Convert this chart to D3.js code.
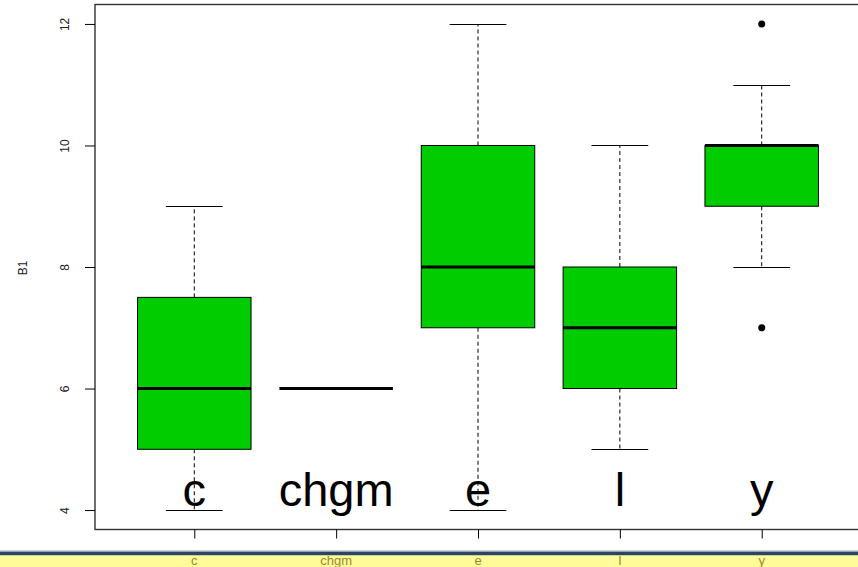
<!DOCTYPE html>
<html>
<head>
<meta charset="utf-8">
<script src="https://cdn.jsdelivr.net/npm/d3@7"></script>
<style>
  html, body { margin: 0; padding: 0; background: #fff; }
  svg { display: block; font-family: "Liberation Sans", Arial, sans-serif; }
</style>
</head>
<body>
<svg id="chart" width="858" height="567"></svg>
<script>
// Groups and their five-number summaries for B1
const categories = ["c", "chgm", "e", "l", "y"];
const whiskerLow  = [4, 6, 4, 5, 8];
const q1          = [5, 6, 7, 6, 9];
const medians     = [6, 6, 8, 7, 10];
const q3          = [7.5, 6, 10, 8, 10];
const whiskerHigh = [9, 6, 12, 10, 11];
const outliers    = [[], [], [], [], [12, 7]];
const yTicks = [4, 6, 8, 10, 12];

const svg = d3.select("#chart");

// Plot frame and scales (R-style 4% padding on both axes)
const frame = { left: 95, right: 861, top: 4.5, bottom: 529.5 };
const x = d3.scaleLinear().domain([0.3, 5.7]).range([frame.left, frame.right]);
const y = d3.scaleLinear().domain([3.68, 12.32]).range([frame.bottom, frame.top]);
const boxHalf = 0.4;
const capHalf = 0.2;

const data = categories.map((c, i) => ({
  name: c, pos: i + 1,
  lo: whiskerLow[i], q1: q1[i], med: medians[i], q3: q3[i], hi: whiskerHigh[i],
  out: outliers[i]
}));

const g = svg.append("g");

data.forEach(d => {
  const cx = x(d.pos);
  const flat = d.q1 === d.q3;
  // whiskers (dashed) and caps
  if (!flat) {
    g.append("line").attr("x1", cx).attr("x2", cx)
      .attr("y1", y(d.q3)).attr("y2", y(d.hi))
      .attr("stroke", "#000").attr("stroke-dasharray", "4,3");
    g.append("line").attr("x1", cx).attr("x2", cx)
      .attr("y1", y(d.q1)).attr("y2", y(d.lo))
      .attr("stroke", "#000").attr("stroke-dasharray", "4,3");
    [d.lo, d.hi].forEach(v => {
      g.append("line")
        .attr("x1", x(d.pos - capHalf)).attr("x2", x(d.pos + capHalf))
        .attr("y1", Math.round(y(v)) + 0.5).attr("y2", Math.round(y(v)) + 0.5)
        .attr("stroke", "#000");
    });
    // box
    g.append("rect")
      .attr("x", x(d.pos - boxHalf)).attr("y", y(d.q3))
      .attr("width", x(d.pos + boxHalf) - x(d.pos - boxHalf))
      .attr("height", y(d.q1) - y(d.q3))
      .attr("fill", "#00cc00").attr("stroke", "#000").attr("stroke-width", 1);
  }
  // median
  g.append("line")
    .attr("x1", x(d.pos - boxHalf)).attr("x2", x(d.pos + boxHalf))
    .attr("y1", y(d.med)).attr("y2", y(d.med))
    .attr("stroke", "#000").attr("stroke-width", 3);
  // outliers
  d.out.forEach(v => {
    g.append("circle").attr("cx", cx).attr("cy", y(v)).attr("r", 3.5).attr("fill", "#000");
  });
  // large group label inside the plot
  g.append("text")
    .attr("x", cx).attr("y", 506)
    .attr("text-anchor", "middle")
    .attr("font-size", 47)
    .attr("fill", "#000")
    .text(d.name);
});

// frame
svg.append("rect")
  .attr("x", frame.left).attr("y", frame.top)
  .attr("width", frame.right - frame.left).attr("height", frame.bottom - frame.top)
  .attr("fill", "none").attr("stroke", "#333").attr("stroke-width", 1.4);

// y axis (R-style: rotated labels, outward ticks)
const yAxis = svg.append("g").attr("transform", `translate(${frame.left},0)`)
  .call(d3.axisLeft(y).tickValues(yTicks).tickSize(10).tickSizeOuter(0).tickFormat(d3.format("d")));
yAxis.select(".domain").remove();
yAxis.selectAll(".tick line").attr("stroke", "#000");
yAxis.selectAll(".tick text")
  .attr("font-size", 12).attr("fill", "#222")
  .attr("x", 0).attr("dy", 0)
  .attr("text-anchor", "middle")
  .attr("transform", "translate(-26,0) rotate(-90)");

svg.append("text")
  .attr("transform", "translate(27,268) rotate(-90)")
  .attr("text-anchor", "middle")
  .attr("font-size", 12).attr("fill", "#222")
  .text("B1");

// x axis ticks below the frame
const band = d3.scalePoint().domain(categories).range([x(1), x(5)]);
const xAxis = svg.append("g").attr("transform", `translate(0,${frame.bottom})`)
  .call(d3.axisBottom(band).tickSize(9).tickSizeOuter(0));
xAxis.select(".domain").remove();
xAxis.selectAll(".tick line").attr("stroke", "#000");
xAxis.selectAll(".tick text").remove();

// bottom strip
svg.append("rect").attr("x", 0).attr("y", 550.5).attr("width", 858).attr("height", 1.5).attr("fill", "#9aa3ad");
svg.append("rect").attr("x", 0).attr("y", 552).attr("width", 858).attr("height", 3.5).attr("fill", "#2c4563");
svg.append("rect").attr("x", 0).attr("y", 555.5).attr("width", 858).attr("height", 12).attr("fill", "#fffb99");

svg.append("g").selectAll("text").data(categories).join("text")
  .attr("x", d => band(d)).attr("y", 565)
  .attr("text-anchor", "middle")
  .attr("font-size", 13)
  .attr("fill", "#9a8a2a")
  .text(d => d);
</script>
</body>
</html>
